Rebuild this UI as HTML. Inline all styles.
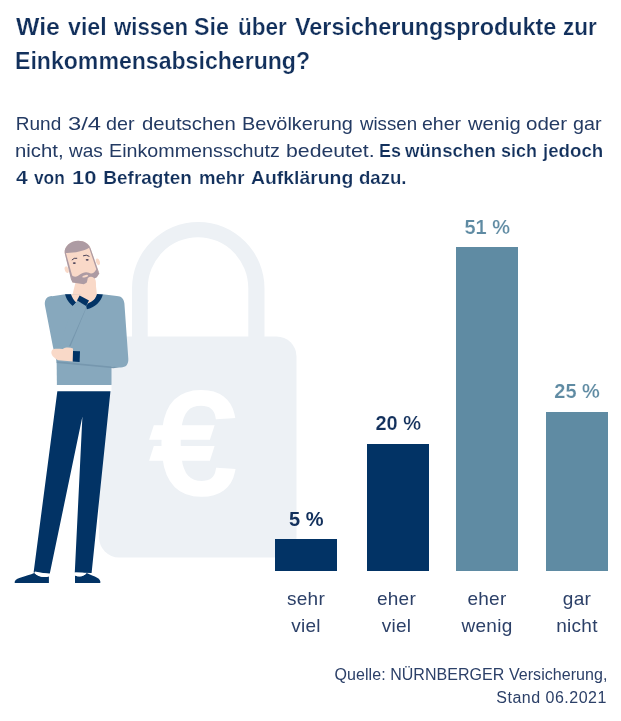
<!DOCTYPE html>
<html lang="de">
<head>
<meta charset="utf-8">
<title>Einkommensabsicherung</title>
<style>
html,body{margin:0;padding:0;background:#fff;}
body{width:621px;height:721px;position:relative;overflow:hidden;font-family:"Liberation Sans",sans-serif;}
.l{position:absolute;white-space:nowrap;line-height:1;margin:0;left:0;width:621px;}
.l span,.l b{position:absolute;top:0;left:0;transform-origin:0 0;}
.t{height:22.5px;font-weight:bold;font-size:22.5px;color:#12305c;transform-origin:0 18px;transform:scaleY(1.08);-webkit-text-stroke:0.22px #fff;}
.p{font-size:19px;color:#233a63;height:19px;}
.p b{color:#12305c;-webkit-text-stroke:0.2px #fff;}
#t1{top:17px}#t2{top:50.6px}#p1{top:114px}#p2{top:141.1px}#p3{top:168.3px}
.bar{position:absolute;}
.d{background:#023365;}
.g{background:#5f8ba3;}
.v{position:absolute;font-weight:bold;font-size:20px;line-height:1;white-space:nowrap;text-align:center;width:100px;}
.vd{color:#12305c;}
.vg{color:#5f8ba3;-webkit-text-stroke:0.2px #fff;}
#v2{-webkit-text-stroke:0.2px #fff;}
.c{position:absolute;font-size:19px;line-height:27px;text-align:center;width:100px;color:#2c4068;letter-spacing:0.3px;}
.s{position:absolute;font-size:16px;line-height:22.3px;text-align:right;color:#2c4068;right:13.6px;top:664.4px;white-space:nowrap;letter-spacing:0.05px;}
.s span{letter-spacing:0.5px;margin-right:0.5px;}
svg{position:absolute;left:0;top:0;}
</style>
</head>
<body>
<svg width="621" height="721" viewBox="0 0 621 721">
  <!-- padlock -->
  <g fill="#edf1f5">
    <path d="M132 340 V288.5 A66.25 66.5 0 0 1 264.5 288.5 V340 H248.3 V288.5 A50.3 51.3 0 0 0 147.7 288.5 V340 Z"/>
    <rect x="99" y="336.4" width="197.5" height="221" rx="20" ry="20"/>
  </g>
  <text id="euro" transform="translate(192.9 493.2) scale(1.035 1.005)" font-family="Liberation Sans, sans-serif" font-size="142.5" fill="#ffffff" stroke="#ffffff" stroke-width="5.7" text-anchor="middle">€</text>
  <!-- man -->
  <g id="man">
    <path d="M 57.4 390.7 H 110.5 L 91.6 573.0 L 74.8 572.4 L 82.4 416.6 L 49.8 573.6 L 33.6 572.4 Z" fill="#023365"/>
    <path d="M 14.7 583.0 C 14.2 580.6 16.0 579.1 20.1 577.7 C 25.4 576.1 30.7 574.4 34.2 572.9 C 37.8 576.3 43.1 578.1 48.9 576.3 V 583.0 Z" fill="#023365"/>
    <path d="M 75.0 583.0 V 575.4 C 79.4 577.6 83.8 576.3 86.8 573.1 C 90.0 574.9 94.5 576.3 97.1 577.7 C 99.8 579.1 100.7 580.9 100.3 583.0 Z" fill="#023365"/>
    <path d="M 34.8 571.5 L 48.6 574.0 L 48.8 576.5 C 43.1 578.1 38.3 576.5 34.8 573.1 Z" fill="#ffffff"/>
    <path d="M 75.2 572.4 L 82.9 572.8 L 86.1 573.5 C 83.8 576.1 79.4 577.4 75.2 575.4 Z" fill="#ffffff"/>
    <path d="M 56.9 384.2 H 111.5 V 391.3 H 56.9 Z" fill="#ffffff"/>
    <path d="M 75.4 283.0 L 95.1 278.5 L 97.3 297.6 L 87.2 307.8 L 72.0 296.5 Z" fill="#f9d9c8"/>
    <path d="M 56.6 359.4 L 111.5 365.6 V 385.1 H 56.9 Z" fill="#87a8bd"/>
    <path d="M 52.1 296.3 L 65.4 294.2 L 102.6 294.2 L 116.8 296.0 C 121.2 296.2 123.9 298.3 124.4 303.6 L 128.3 358.5 C 128.7 364.7 125.7 367.9 119.5 367.4 L 56.6 361.5 L 53.0 347.0 L 45.1 306.3 C 43.8 300.1 46.8 296.0 52.1 296.0 Z" fill="#87a8bd"/>
    <path d="M 56.6 361.2 L 119.5 367.2 L 113.3 368.3 L 56.6 362.9 Z" fill="#7697ae"/>
    <path d="M 70.9 294.3 L 97.0 294.0 C 96.1 298.4 92.7 301.7 88.3 303.2 L 76.1 302.4 C 73.8 300.3 71.9 297.4 70.9 294.3 Z" fill="#f9d9c8"/>
    <path d="M 65.1 294.3 C 66.1 299.3 69.5 303.7 72.9 305.9 L 76.1 302.4 C 73.8 300.3 71.9 297.4 70.9 294.3 Z" fill="#023365"/>
    <path d="M 102.8 294.5 C 101.4 301.3 94.6 308.0 86.9 309.2 L 86.1 306.1 L 88.3 303.2 C 92.7 301.7 96.1 298.4 97.0 294.0 Z" fill="#023365"/>
    <path d="M 77.0 300.6 L 86.1 306.1 L 86.1 308.2 L 70.0 346.1 L 59.8 345.2 L 72.9 305.9 L 76.1 302.4 Z" fill="#87a8bd"/>
    <path d="M 86.1 307.5 L 86.1 308.6 L 70.5 346.3 L 69.1 346.3 Z" fill="#7697ae"/>
    <path d="M 51.6 350.9 C 52.7 347.9 58.3 349.1 62.8 349.1 C 65.4 347.0 69.9 347.4 73.0 348.4 V 361.5 L 58.3 360.3 C 53.9 357.6 50.4 355.0 51.6 350.9 Z" fill="#f9d9c8"/>
    <path d="M 73.0 350.9 L 80.0 351.3 L 79.6 361.9 L 72.7 361.4 Z" fill="#023365"/>
    <ellipse cx="97.9" cy="261.8" rx="1.9" ry="3.4" fill="#f9d9c8" transform="rotate(-17 97.9 261.8)"/>
    <ellipse cx="66.7" cy="269.7" rx="1.9" ry="3.4" fill="#f9d9c8" transform="rotate(-17 66.7 269.7)"/>
    <path d="M 64.7 253.1 C 63.8 246.9 70.3 240.7 78.2 240.7 C 84.9 240.7 88.9 244.1 90.4 248.0 L 99.3 273.4 L 96.8 277.3 L 83.8 284.3 L 72.5 282.4 Z" fill="#f9d9c8"/>
    <path d="M 64.7 253.1 C 63.8 246.9 70.3 240.7 78.2 240.7 C 84.9 240.7 88.9 244.1 90.4 248.0 L 89.1 247.8 C 83.8 251.4 73.7 253.1 65.9 252.9 Z" fill="#ad9ba3"/>
    <path d="M 64.7 253.1 L 65.9 252.9 L 72.2 275.7 L 71.0 279.6 Z" fill="#ad9ba3"/>
    <path d="M 90.4 248.0 L 89.1 247.8 L 96.4 269.5 L 99.3 273.4 Z" fill="#ad9ba3"/>
    <path d="M 71.4 275.1 C 74.2 277.9 77.6 276.8 79.9 274.6 C 82.1 272.6 86.1 271.5 88.9 272.8 C 91.1 274.2 94.5 273.4 96.4 268.9 L 99.3 273.4 L 96.8 277.3 L 83.8 284.3 L 72.5 282.4 L 71.0 279.6 Z" fill="#ad9ba3"/>
    <ellipse cx="85.2" cy="276.2" rx="3.0" ry="1.1" fill="#f9d9c8" transform="rotate(-14 85.2 276.2)"/>
    <path d="M 87.8 277.9 C 90.6 275.7 94.5 276.8 95.4 280.2 C 96.4 284.1 96.2 290.9 94.2 298.8 L 87.2 302.1 L 79.5 295.9 C 83.3 292.6 86.6 285.2 87.8 277.9 Z" fill="#f9d9c8"/>
    <path d="M 79.6 295.5 L 89.0 300.6 L 86.1 306.1 L 77.0 300.6 Z" fill="#023365"/>
    <ellipse cx="74.3" cy="263.1" rx="1.5" ry="0.9" fill="#4b4359"/>
    <ellipse cx="87.2" cy="259.8" rx="1.5" ry="0.9" fill="#4b4359"/>
    <path d="M 72.1 259.8 Q 73.9 257.5 76.8 258.2" stroke="#4b4359" stroke-width="1" fill="none" stroke-linecap="round"/>
    <path d="M 83.4 255.7 Q 86.3 254.2 89.1 256.2" stroke="#4b4359" stroke-width="1" fill="none" stroke-linecap="round"/>
  </g>
</svg>

<!--TEXT-->
<div class="l t" id="t1">
<span id="t1_0" style="left:16.1px;transform:scaleX(1.103)">Wie</span>
<span id="t1_1" style="left:68.0px;transform:scaleX(1.029)">viel</span>
<span id="t1_2" style="left:113.7px;transform:scaleX(0.987)">wissen</span>
<span id="t1_3" style="left:194.3px;transform:scaleX(1.032)">Sie</span>
<span id="t1_4" style="left:238.1px;transform:scaleX(1.001)">über</span>
<span id="t1_5" style="left:295.3px;transform:scaleX(1.040)">Versicherungsprodukte</span>
<span id="t1_6" style="left:563.4px;transform:scaleX(1.001)">zur</span>
</div>
<div class="l t" id="t2">
<span id="t2_0" style="left:15.4px;transform:scaleX(1.026)">Einkommensabsicherung?</span>
</div>
<div class="l p" id="p1">
<span id="p1_0" style="left:15.8px;transform:scaleX(1.000)">Rund</span>
<span id="p1_1" style="left:67.9px;transform:scaleX(1.250)">3/4</span>
<span id="p1_2" style="left:106.3px;transform:scaleX(1.039)">der</span>
<span id="p1_3" style="left:141.5px;transform:scaleX(1.070)">deutschen</span>
<span id="p1_4" style="left:241.9px;transform:scaleX(1.049)">Bevölkerung</span>
<span id="p1_5" style="left:359.9px;transform:scaleX(0.982)">wissen</span>
<span id="p1_6" style="left:422.2px;transform:scaleX(1.028)">eher</span>
<span id="p1_7" style="left:467.6px;transform:scaleX(1.062)">wenig</span>
<span id="p1_8" style="left:526.0px;transform:scaleX(1.082)">oder</span>
<span id="p1_9" style="left:573.4px;transform:scaleX(1.038)">gar</span>
</div>
<div class="l p" id="p2">
<span id="p2_0" style="left:15.2px;transform:scaleX(1.070)">nicht,</span>
<span id="p2_1" style="left:68.9px;transform:scaleX(1.001)">was</span>
<span id="p2_2" style="left:108.7px;transform:scaleX(1.037)">Einkommensschutz</span>
<span id="p2_3" style="left:285.6px;transform:scaleX(1.119)">bedeutet.</span>
<b id="p2_4" style="left:379.2px;transform:scaleX(0.944)">Es</b>
<b id="p2_5" style="left:405.4px;transform:scaleX(0.978)">wünschen</b>
<b id="p2_6" style="left:500.9px;transform:scaleX(0.945)">sich</b>
<b id="p2_7" style="left:542.9px;transform:scaleX(0.984)">jedoch</b>
</div>
<div class="l p" id="p3">
<b id="p3_0" style="left:15.8px;transform:scaleX(1.108)">4</b>
<b id="p3_1" style="left:34.2px;transform:scaleX(0.910)">von</b>
<b id="p3_2" style="left:71.8px;transform:scaleX(1.160)">10</b>
<b id="p3_3" style="left:103.3px;transform:scaleX(1.000)">Befragten</b>
<b id="p3_4" style="left:198.5px;transform:scaleX(0.978)">mehr</b>
<b id="p3_5" style="left:250.8px;transform:scaleX(1.020)">Aufklärung</b>
<b id="p3_6" style="left:358.9px;transform:scaleX(0.979)">dazu.</b>
</div>
<!--/TEXT-->

<div class="bar d" style="left:275px;top:539px;width:62px;height:31.5px;"></div>
<div class="bar d" style="left:367px;top:444px;width:62px;height:126.5px;"></div>
<div class="bar g" style="left:456px;top:247px;width:62px;height:323.5px;"></div>
<div class="bar g" style="left:546px;top:412px;width:62px;height:158.5px;"></div>

<div class="v vd" id="v1" style="left:256.3px;top:508.9px;">5 %</div>
<div class="v vd" id="v2" style="left:348.3px;top:413.4px;">20 %</div>
<div class="v vg" id="v3" style="left:437.3px;top:216.6px;">51 %</div>
<div class="v vg" id="v4" style="left:527.1px;top:381.4px;">25 %</div>

<div class="c" id="c1" style="left:256px;top:585px;">sehr<br>viel</div>
<div class="c" id="c2" style="left:346.5px;top:585px;">eher<br>viel</div>
<div class="c" id="c3" style="left:437px;top:585px;">eher<br>wenig</div>
<div class="c" id="c4" style="left:527px;top:585px;">gar<br>nicht</div>

<div class="s" id="s">Quelle: NÜRNBERGER Versicherung,<br><span>Stand 06.2021</span></div>
</body>
</html>
